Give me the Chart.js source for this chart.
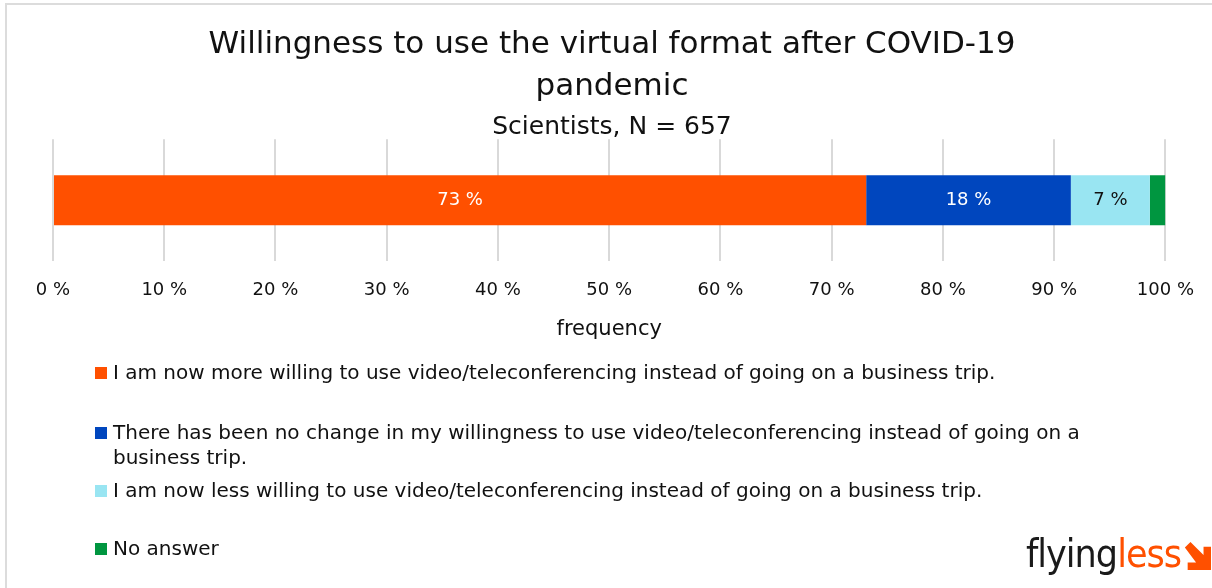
<!DOCTYPE html>
<html lang="en">
<head>
    <meta charset="UTF-8">
    <title>Willingness to use the virtual format after COVID-19 pandemic</title>
    <script src="https://cdn.jsdelivr.net/npm/chart.js"></script>
    <style>
        body { margin: 0; background: #fff; font-family: 'DejaVu Sans', sans-serif; }
        .frame { position: relative; width: 1212px; height: 588px; overflow: hidden; }
        .border { position: absolute; left: 5px; top: 3px; right: -10px; bottom: -10px; border-top: 2px solid #dcdcdc; border-left: 2px solid #dcdcdc; }
        canvas { position: absolute; left: 0; top: 0; }
        #legend { position: absolute; left: 95px; top: 360px; width: 1028px; }
        .item { display: flex; align-items: flex-start; height: 58px; font-size: 20px; line-height: 25px; color: #111; }
        .item:first-child { height: 60px; }
        .swatch { width: 12px; height: 12px; margin-top: 7px; margin-right: 6px; flex: none; }
        .logo { position: absolute; left: 1026px; top: 531px; font-family: 'DejaVu Sans Condensed', 'DejaVu Sans', sans-serif; font-size: 39px; letter-spacing: -1px; color: #1a1a1a; display: flex; align-items: center; }
        .logo .less { color: #ff5000; }
    </style>
</head>
<body>
<div class="frame">
    <div class="border"></div>
    <canvas id="chart" width="1212" height="588"></canvas>
    <div id="legend"></div>
    <div class="logo"><span>flying</span><span class="less">less</span>
        <svg width="28" height="28" viewBox="0 0 30 30" style="margin-left:2px;margin-top:4px"><polygon points="2,6 8,0 22,14 22,5 30,5 30,30 5,30 5,22 14,22" fill="#ff5000"/></svg>
    </div>
</div>
<script>
    const categories = ['Scientists'];
    const seriesNames = [
        'I am now more willing to use video/teleconferencing instead of going on a business trip.',
        'There has been no change in my willingness to use video/teleconferencing instead of going on a business trip.',
        'I am now less willing to use video/teleconferencing instead of going on a business trip.',
        'No answer'
    ];
    const seriesValues = [73.1, 18.4, 7.1, 1.4];
    const valueLabels = ['73 %', '18 %', '7 %', ''];
    const seriesColors = ['#ff5000', '#0046be', '#99e5f2', '#009640'];
    const labelColors = ['#ffffff', '#ffffff', '#111111', '#111111'];

    const FONT = "'DejaVu Sans', sans-serif";

    // labels inside the bar segments
    const segmentLabels = {
        id: 'segmentLabels',
        afterDatasetsDraw(chart) {
            const ctx = chart.ctx;
            ctx.save();
            ctx.font = '18px ' + FONT;
            ctx.textAlign = 'center';
            ctx.textBaseline = 'middle';
            chart.data.datasets.forEach((ds, i) => {
                const meta = chart.getDatasetMeta(i);
                meta.data.forEach(bar => {
                    const p = bar.getProps(['x', 'y', 'base'], true);
                    if (!valueLabels[i]) return;
                    ctx.fillStyle = labelColors[i];
                    ctx.fillText(valueLabels[i], (p.x + p.base) / 2, p.y);
                });
            });
            ctx.restore();
        }
    };

    new Chart(document.getElementById('chart'), {
        type: 'bar',
        data: {
            labels: categories,
            datasets: seriesNames.map((name, i) => ({
                label: name,
                data: [seriesValues[i]],
                backgroundColor: seriesColors[i],
                borderWidth: 0,
                barPercentage: 0.41,
                categoryPercentage: 1
            }))
        },
        options: {
            indexAxis: 'y',
            responsive: false,
            animation: false,
            layout: { padding: { left: 53, right: 41, top: 0, bottom: 248 } },
            plugins: {
                legend: { display: false },
                tooltip: { enabled: false },
                title: {
                    display: true,
                    text: ['Willingness to use the virtual format after COVID-19', 'pandemic'],
                    color: '#111',
                    font: { family: FONT, size: 31, weight: 'normal', lineHeight: 1.35 },
                    padding: { top: 24, bottom: 9 }
                },
                subtitle: {
                    display: true,
                    text: 'Scientists, N = 657',
                    color: '#111',
                    font: { family: FONT, size: 25, weight: 'normal', lineHeight: 0.9 },
                    padding: { top: 0, bottom: 0 }
                }
            },
            scales: {
                x: {
                    stacked: true,
                    min: 0,
                    max: 100,
                    border: { display: false },
                    grid: { color: '#d9d9d9', lineWidth: 2, drawTicks: false },
                    ticks: {
                        stepSize: 10,
                        padding: 18,
                        color: '#111',
                        font: { family: FONT, size: 18 },
                        callback: v => v + ' %'
                    },
                    title: {
                        display: true,
                        text: 'frequency',
                        color: '#111',
                        font: { family: FONT, size: 21, lineHeight: 1 },
                        padding: { top: 0, bottom: 0 }
                    }
                },
                y: {
                    stacked: true,
                    display: false
                }
            }
        },
        plugins: [segmentLabels]
    });

    const legendEl = document.getElementById('legend');
    seriesNames.forEach((name, i) => {
        const item = document.createElement('div');
        item.className = 'item';
        item.innerHTML = '<span class="swatch" style="background:' + seriesColors[i] + '"></span><span></span>';
        item.lastChild.textContent = name;
        legendEl.appendChild(item);
    });
</script>
</body>
</html>
